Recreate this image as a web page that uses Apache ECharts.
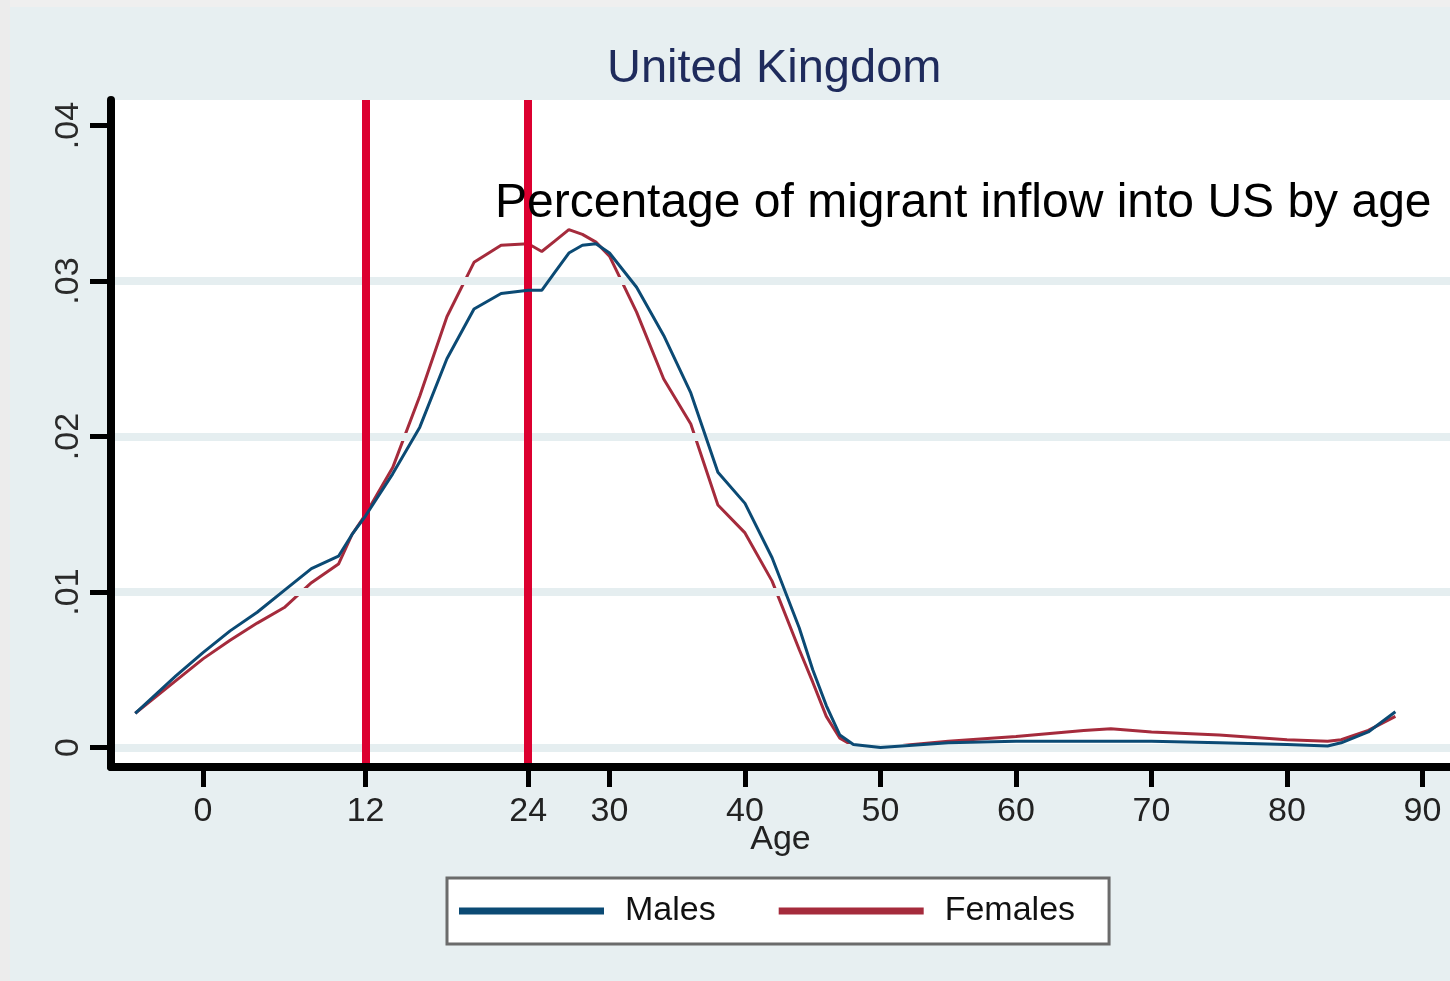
<!DOCTYPE html>
<html>
<head>
<meta charset="utf-8">
<title>United Kingdom</title>
<script src="https://cdn.jsdelivr.net/npm/echarts@6/dist/echarts.min.js"></script>
<style>
  html, body { margin: 0; padding: 0; background: #e7eff1; }
  #main { width: 1450px; height: 981px; }
</style>
</head>
<body>
<div id="main"></div>
<script>
// ages
var ages = [-5, -2, 0, 2, 4, 6, 8, 10, 11, 12, 14, 16, 18, 20, 22, 24, 25, 26, 27, 28, 29, 30,
  32, 34, 36, 38, 40, 42, 44, 45, 46, 47, 48, 50, 55, 60, 65, 67, 70, 75, 80, 83, 84, 86, 88];
// share of migrant inflow, males
var males = [.0022, .0046, .0061, .0075, .0087, .0101, .0115, .0123, .0137, .0149, .0176, .0206, .0250, .0282, .0292, .0294, .0294, .0306, .0318, .0323, .0324, .0318,
  .0296, .0265, .0228, .0177, .0157, .0122, .0077, .0050, .0027, .0008, .0002, .0000, .0003, .0004, .0004, .0004, .0004, .0003, .0002, .0001, .0003, .0010, .0023];
// share of migrant inflow, females
var females = [.0022, .0043, .0057, .0069, .0080, .0090, .0106, .0118, .0137, .0150, .0180, .0226, .0277, .0312, .0323, .0324, .0319, .0326, .0333, .0330, .0325, .0316,
  .0280, .0237, .0208, .0156, .0138, .0107, .0063, .0042, .0020, .0006, .0001, .0000, .0004, .0007, .0011, .0012, .0010, .0008, .0005, .0004, .0005, .0011, .0020];

var xTicks = [0, 12, 24, 30, 40, 50, 60, 70, 80, 90];
var yTicks = [0, .01, .02, .03, .04];
var yTickLabels = ['0', '.01', '.02', '.03', '.04'];
var yGrid = [0, .01, .02, .03];
var markAges = [12, 24];

var seriesNames = ['Males', 'Females'];
var note = 'Percentage of migrant inflow into US by age';

function pairs(vals) {
  var res = [];
  for (var i = 0; i < ages.length; i++) {
    res.push([ages[i], vals[i]]);
  }
  return res;
}

var font = 'Liberation Sans';
var chart = echarts.init(document.getElementById('main'));

var option = {
  animation: false,
  backgroundColor: '#e7eff1',
  textStyle: { fontFamily: font },
  title: {
    text: 'United Kingdom',
    left: 607,
    top: 46,
    padding: 0,
    textStyle: { fontSize: 47, fontWeight: 'normal', color: '#1f2b5c', fontFamily: font }
  },
  grid: {
    left: 111,
    right: 0,
    top: 100,
    bottom: 214,
    show: true,
    backgroundColor: '#ffffff',
    borderWidth: 0
  },
  legend: {
    data: seriesNames,
    left: 447,
    top: 878,
    icon: 'rect',
    itemWidth: 145,
    itemHeight: 7,
    itemGap: 63,
    padding: [16, 34, 16, 12],
    backgroundColor: '#ffffff',
    borderColor: '#6b6b6b',
    borderWidth: 3,
    borderRadius: 0,
    textStyle: { fontSize: 34, color: '#111', padding: [0, 0, 0, 16], fontFamily: font }
  },
  xAxis: {
    type: 'value',
    z: 10,
    min: -6.79,
    max: 92.03,
    name: 'Age',
    nameLocation: 'middle',
    nameGap: 56,
    nameMoveOverlap: false,
    nameTextStyle: { fontSize: 34, color: '#222', fontFamily: font },
    axisLine: { onZero: false, lineStyle: { color: '#000', width: 8 } },
    axisTick: { show: true, customValues: xTicks, length: 20, lineStyle: { color: '#000', width: 5 } },
    axisLabel: { customValues: xTicks, fontSize: 34, color: '#222', margin: 28, fontFamily: font },
    splitLine: { show: false }
  },
  yAxis: {
    type: 'value',
    z: 10,
    min: -0.001254,
    max: 0.04164,
    axisLine: { show: true, onZero: false, lineStyle: { color: '#000', width: 8 } },
    axisTick: { show: true, customValues: yTicks, length: 21, lineStyle: { color: '#000', width: 5 } },
    axisLabel: {
      customValues: yTicks,
      rotate: 90,
      fontSize: 34,
      color: '#2a2a2a',
      margin: 25,
      fontFamily: font,
      formatter: function (v) {
        for (var i = 0; i < yTicks.length; i++) {
          if (Math.abs(yTicks[i] - v) < 1e-6) return yTickLabels[i];
        }
        return '';
      }
    },
    splitLine: { show: false }
  },
  graphic: [
    // thin strips round the picture edge
    { type: 'rect', left: 0, top: 0, shape: { width: 1450, height: 7 }, style: { fill: '#efefef' }, z: 100 },
    { type: 'rect', left: 0, top: 0, shape: { width: 10, height: 981 }, style: { fill: '#ececec' }, z: 100 },
    {
      type: 'text',
      left: 495,
      top: 180,
      z: 100,
      style: { text: note, font: '48px "Liberation Sans"', fill: '#000' }
    }
  ],
  series: [
    // horizontal grid bands
    {
      type: 'line',
      data: [],
      z: 1,
      silent: true,
      markLine: {
        silent: true,
        symbol: 'none',
        label: { show: false },
        lineStyle: { color: '#e5eef0', width: 8, type: 'solid' },
        data: yGrid.map(function (v) { return { yAxis: v }; })
      }
    },
    // red reference lines at 12 and 24
    {
      type: 'line',
      data: [],
      z: 2,
      silent: true,
      markLine: {
        silent: true,
        symbol: 'none',
        label: { show: false },
        lineStyle: { color: '#dc0030', width: 8, type: 'solid' },
        data: markAges.map(function (a) { return { xAxis: a }; })
      }
    },
    {
      name: seriesNames[0],
      type: 'line',
      z: 5,
      showSymbol: false,
      data: pairs(males),
      lineStyle: { color: '#0b4a74', width: 3 },
      itemStyle: { color: '#0b4a74' }
    },
    {
      name: seriesNames[1],
      type: 'line',
      z: 4,
      showSymbol: false,
      data: pairs(females),
      lineStyle: { color: '#a52b3c', width: 3 },
      itemStyle: { color: '#a52b3c' }
    }
  ]
};
chart.setOption(option);
</script>
</body>
</html>
